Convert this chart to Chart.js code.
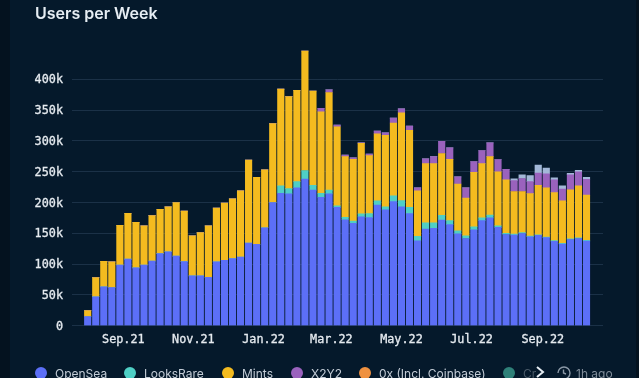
<!DOCTYPE html>
<html>
<head>
<meta charset="utf-8">
<title>Users per Week</title>
<script src="https://cdn.jsdelivr.net/npm/chart.js@4"></script>
<style>
  html, body { margin: 0; padding: 0; background: #04121f; overflow: hidden; }
  #panel { position: absolute; left: 10px; top: 0; width: 626px; height: 378px; background: #05192b; }
  #wrap { position: absolute; left: 0; top: 0; width: 639px; height: 378px; }
  #title { position: absolute; left: 35px; top: 3px; font: 600 16px Inter, sans-serif; color: #e6edf3; }
  .item { position: absolute; top: 367px; height: 14px; font: 400 12px/14px Inter, sans-serif; color: #c3ccd6; white-space: nowrap; }
  .dot { position: absolute; top: 367px; width: 12px; height: 12px; border-radius: 50%; }
  svg { position: absolute; }
</style>
</head>
<body>
<div id="panel"></div>
<div id="wrap"><canvas id="chart" width="639" height="378"></canvas></div>
<div id="title">Users per Week</div>
<div id="legend"></div>
<svg style="left:535px;top:365px" width="10" height="14" viewBox="0 0 10 14"><path d="M2 2 L8 7 L2 12" fill="none" stroke="#e6edf3" stroke-width="2"/></svg>
<svg style="left:556px;top:365px" width="15" height="15" viewBox="0 0 15 15"><path d="M2 8 A6 6 0 1 1 8 14 M7.5 4.5 V8 L10 9" fill="none" stroke="#8b98a6" stroke-width="1.4"/></svg>
<div class="item" style="left:576px;color:#7f8c99">1h ago</div>
<script>
// Weeks, counted from the first bar (1 Aug 2021), values in thousands
const weeks = [...Array(63).keys()];
const tickWeeks = [4.43, 13.14, 21.86, 30.29, 39, 47.71, 56.57];
const tickLabels = ['Sep.21', 'Nov.21', 'Jan.22', 'Mar.22', 'May.22', 'Jul.22', 'Sep.22'];

const openSea = [15, 47, 63, 62, 98.5, 108, 94, 98.5, 105, 117, 120, 113, 104, 81, 81, 78.5, 103.5, 106, 109, 111.5, 134, 132, 159, 200,
  215, 214, 224, 238, 220, 208.5, 214, 192, 172, 166, 176.6, 175.5, 196, 188, 201.5, 193, 182, 137.6, 157, 158, 171.5, 164, 149, 141.5,
  155.8, 170.5, 175, 159.6, 148, 147, 149.7, 144.4, 146.6, 143, 137, 132.6, 140, 141.6, 137.4];
const looksRare = [0, 0, 0, 0, 0, 0, 0, 0, 0, 0, 0, 0, 0, 0, 0, 0, 0, 0, 0, 0, 0, 0, 0, 0,
  12, 8.6, 10, 14, 8, 6.5, 6, 2.5, 4, 4, 4.9, 6.5, 6.6, 5, 9.2, 10, 10, 7.4, 10, 9, 7.5, 6.5, 5, 4.5,
  4.8, 4.5, 4.6, 2.4, 2, 1.6, 1.3, 1.1, 1.1, 1, 1, 1.1, 1, 1.1, 1.1];
const mints = [9.5, 31, 41.5, 41.5, 64.5, 74.5, 74, 63.5, 73.7, 72, 73, 87, 82, 65, 70, 83.5, 87.5, 93, 97, 107.5, 135, 109, 94, 128,
  157, 149.4, 148, 194, 153, 132, 158.6, 128.5, 98.6, 100, 114.5, 94, 109, 116, 118.3, 142.6, 125, 74, 96, 96, 100.5, 99.5, 76, 61,
  88.4, 88, 95, 87.7, 86.7, 69.2, 66.8, 69, 80.3, 80, 78, 68.9, 79.5, 84.3, 73.5];
const x2y2 = [0, 0, 0, 0, 0, 0, 0, 0, 0, 0, 0, 0, 0, 0, 0, 0, 0, 0, 0, 0, 0, 0, 0, 0,
  0, 0, 0, 0, 0, 6, 4.4, 2.6, 2.4, 2.5, 1, 2.5, 4.5, 4, 8, 6.4, 7, 4.7, 8, 11.6, 20, 18.7, 11.6, 16.7,
  17.5, 21.4, 22.2, 20.1, 17.3, 17.8, 21.2, 19.5, 19.6, 22.5, 20.7, 19, 24.5, 22.7, 25.8];
const other = [0, 0, 0, 0, 0, 0, 0, 0, 0, 0, 0, 0, 0, 0, 0, 0, 0, 0, 0, 0, 0, 0, 0, 0,
  0, 0, 0, 0, 0, 0, 0, 0, 0, 0, 0, 0, 0, 0, 0, 0, 0, 0, 0, 0, 0, 0, 0, 0,
  0, 0, 0, 0, 0, 2.8, 6, 9.8, 13, 9.2, 3.3, 5.4, 2.5, 2.7, 3.2];

// Legend
const legendNames = ['OpenSea', 'LooksRare', 'Mints', 'X2Y2', '0x (Incl. Coinbase)', 'Cr'];
const legendColors = ['#5c6ff7', '#4fcfc5', '#f4bb1f', '#9a62bd', '#ef9140', '#2f8179'];
const legendDots = [35, 124, 222, 291, 359, 503];
const legendEl = document.getElementById('legend');
legendNames.forEach((name, i) => {
    const dot = document.createElement('div');
    dot.className = 'dot';
    dot.style.left = legendDots[i] + 'px';
    dot.style.background = legendColors[i];
    legendEl.appendChild(dot);
    const item = document.createElement('div');
    item.className = 'item';
    item.style.left = (legendDots[i] + 20) + 'px';
    item.textContent = name;
    if (name === 'Cr') item.style.color = '#4a5a68';
    legendEl.appendChild(item);
});

function bar(label, data, color) {
    return { label: label, data: data, backgroundColor: color, borderWidth: 0, barThickness: 6.5 };
}

new Chart(document.getElementById('chart'), {
    type: 'bar',
    data: {
        labels: weeks,
        datasets: [
            bar('OpenSea', openSea, '#5c6ff7'),
            bar('LooksRare', looksRare, '#4fcfc5'),
            bar('Mints', mints, '#f4bb1f'),
            bar('X2Y2', x2y2, '#9a62bd'),
            bar('Other', other, '#a3b8d8')
        ]
    },
    options: {
        responsive: false,
        animation: false,
        layout: { padding: { top: 48.5, right: 36, left: 0, bottom: 0 } },
        plugins: { legend: { display: false }, tooltip: { enabled: false } },
        scales: {
            x: {
                type: 'linear',
                stacked: true,
                offset: false,
                min: -1.95,
                max: 64.05,
                grid: { display: false },
                border: { display: false },
                afterBuildTicks: scale => { scale.ticks = tickWeeks.map(v => ({ value: v })); },
                afterFit: scale => { scale.height = 52.3; },
                ticks: {
                    autoSkip: false,
                    maxRotation: 0,
                    padding: -1,
                    color: '#e6ebf0',
                    font: { family: 'DejaVu Sans Mono', size: 11.8 },
                    textStrokeColor: '#e6ebf0',
                    textStrokeWidth: 0.3,
                    callback: value => tickLabels[tickWeeks.indexOf(value)]
                }
            },
            y: {
                stacked: true,
                min: 0,
                max: 450,
                grid: { color: '#1b3147', drawTicks: false },
                border: { display: false },
                afterBuildTicks: scale => { scale.ticks = scale.ticks.filter(t => t.value <= 400); },
                afterFit: scale => { scale.width = 72; },
                ticks: {
                    stepSize: 50,
                    padding: 9,
                    labelOffset: 1,
                    color: '#e6ebf0',
                    font: { family: 'DejaVu Sans Mono', size: 11.8 },
                    textStrokeColor: '#e6ebf0',
                    textStrokeWidth: 0.3,
                    callback: value => value === 0 ? '0' : value + 'k'
                }
            }
        }
    }
});
</script>
</body>
</html>
